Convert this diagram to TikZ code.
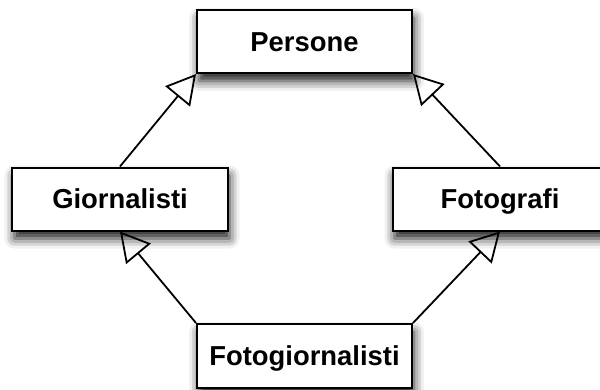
\documentclass[tikz,border=0pt]{standalone}
\usepackage{fontspec}
\setmainfont{Liberation Sans}
\usetikzlibrary{arrows.meta,shadows.blur}
\begin{document}
\begin{tikzpicture}[x=1bp, y=1bp,
	classe/.style={draw, line width=2bp, fill=white, inner sep=0pt,
		minimum width=215bp, minimum height=63bp,
		text height=19.7bp, text depth=0bp,
		font=\bfseries\fontsize{27.5}{32}\selectfont,
		blur shadow={shadow xshift=2bp, shadow yshift=-8bp,
			shadow blur radius=10bp, shadow opacity=90}},
	eredita/.style={line width=1.8bp, -{Triangle[open, length=29bp, width=32bp]}}]
	\useasboundingbox (0, 0) rectangle (600, 389);
	\node[classe] at (304.5, 347.5) (persone) {Persone};
	\node[classe] at (120, 190) (giornalisti) {Giornalisti};
	\node[classe] at (500, 190) (fotografi) {Fotografi};
	\node[classe, minimum height=64bp] at (304.5, 33) (fotogiornalisti) {Fotogiornalisti};
	\draw[eredita] (giornalisti.north) -- (persone.south west);
	\draw[eredita] (fotografi.north) -- (persone.south east);
	\draw[eredita] (fotogiornalisti.north west) -- (giornalisti.south);
	\draw[eredita] (fotogiornalisti.north east) -- (fotografi.south);
\end{tikzpicture}
\end{document}
